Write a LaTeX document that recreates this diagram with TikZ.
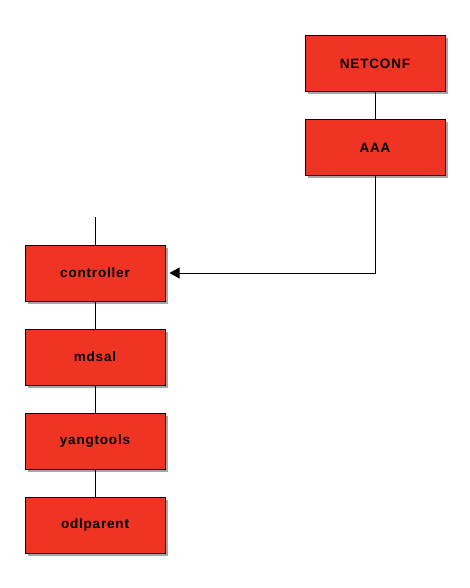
\documentclass[tikz,border=0pt]{standalone}
\usepackage{fontspec}
\setmainfont{Liberation Sans}
\newfontfamily\boxfont[LetterSpace=6]{Liberation Sans}
\usetikzlibrary{shadows,arrows.meta}
\definecolor{boxred}{HTML}{F03424}
\tikzset{
  x=1pt,y=-1pt,
  modbox/.style={draw=black,line width=1pt,fill=boxred,minimum width=140pt,minimum height=56pt,inner sep=0pt,
    font=\boxfont\fontsize{13.5}{15}\selectfont\bfseries,
    drop shadow={shadow xshift=2.5pt,shadow yshift=-2.5pt,fill=black,opacity=0.35}},
  link/.style={draw=black,line width=0.8pt}
}
\begin{document}
\begin{tikzpicture}
\useasboundingbox (0,0) rectangle (470,588);
\node[modbox] (netconf) at (375,63.5) {NETCONF};
\node[modbox] (aaa) at (375,147.5) {AAA};
\node[modbox] (controller) at (95,273) {controller};
\node[modbox] (mdsal) at (95,357) {mdsal};
\node[modbox] (yangtools) at (95,441) {yangtools};
\node[modbox] (odlparent) at (95,525) {odlparent};
\coordinate (top) at (95,217);
\draw[link] (netconf) -- (aaa);
\draw[link] (top) -- (controller);
\draw[link] (controller) -- (mdsal);
\draw[link] (mdsal) -- (yangtools);
\draw[link] (yangtools) -- (odlparent);
\draw[link,-{Triangle[length=10pt,width=11pt]},shorten >=4pt] (aaa.south) |- (controller.east);
\end{tikzpicture}
\end{document}
